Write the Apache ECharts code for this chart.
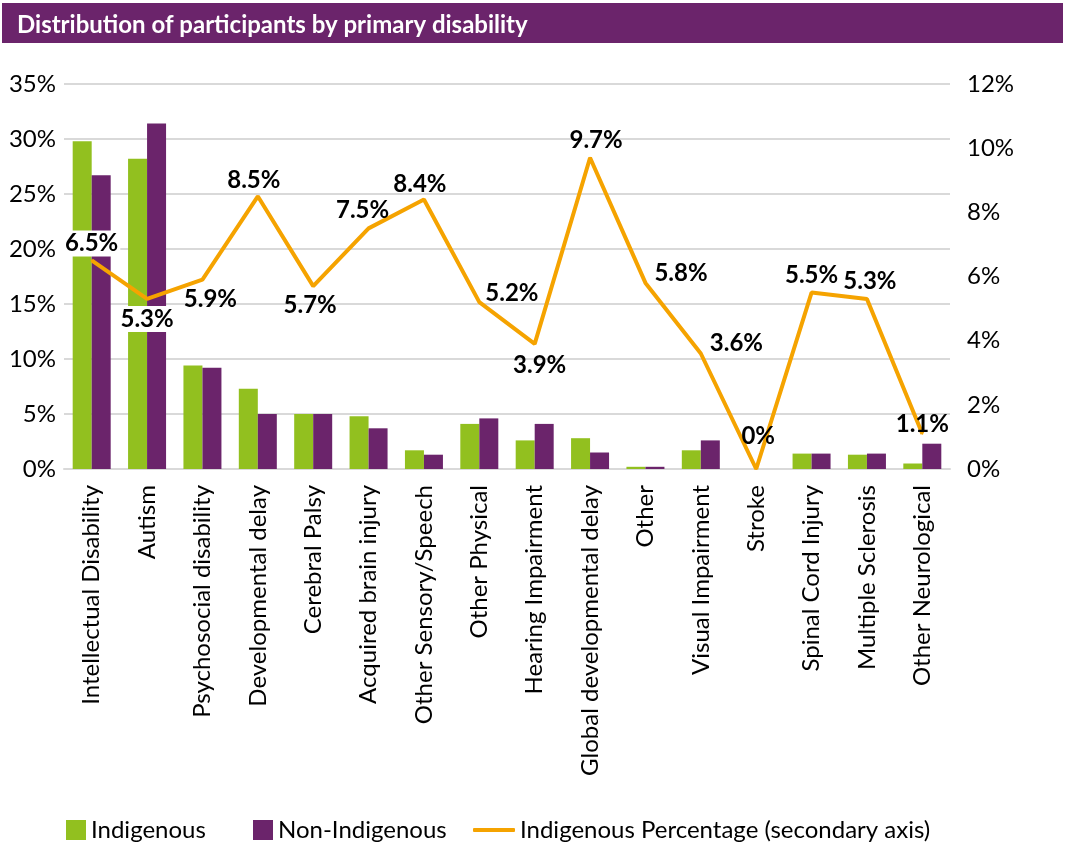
<!DOCTYPE html>
<html>
<head>
<meta charset="utf-8">
<script src="https://cdn.jsdelivr.net/npm/echarts@6/dist/echarts.min.js"></script>
<style>
html,body{margin:0;padding:0;background:#fff;}
#chart{width:1065px;height:846px;}
</style>
</head>
<body>
<div id="chart"></div>
<script>
const categories = ["Intellectual Disability","Autism","Psychosocial disability","Developmental delay","Cerebral Palsy","Acquired brain injury","Other Sensory/Speech","Other Physical","Hearing Impairment","Global developmental delay","Other","Visual Impairment","Stroke","Spinal Cord Injury","Multiple Sclerosis","Other Neurological"];
const indigenous = [29.8,28.2,9.4,7.3,5.0,4.8,1.7,4.1,2.6,2.8,0.2,1.7,0,1.4,1.3,0.5];
const nonIndigenous = [26.7,31.4,9.2,5.0,5.0,3.7,1.3,4.6,4.1,1.5,0.2,2.6,0,1.4,1.4,2.3];
const indigenousPct = [6.5,5.3,5.9,8.5,5.7,7.5,8.4,5.2,3.9,9.7,5.8,3.6,0,5.5,5.3,1.1];
const leftTicks = {min:0,max:35,interval:5};
const rightTicks = {min:0,max:12,interval:2};

// label placement styling (not data)
const labelStyles = [
  {position:'top', distance:3, backgroundColor:'#fff', padding:[1,2]},
  {position:'bottom', distance:6, backgroundColor:'#fff', padding:[1,2]},
  {position:'bottom', distance:7, offset:[8,0]},
  {position:'top', distance:3, offset:[-4,0]},
  {position:'bottom', distance:6, offset:[-3,0]},
  {position:'top', distance:5, offset:[-6,0]},
  {position:'top', distance:2, offset:[-4,0]},
  {position:'right', distance:5, offset:[0,-9]},
  {position:'bottom', distance:8, offset:[5,0]},
  {position:'top', distance:5, offset:[6,0]},
  {position:'right', distance:8, offset:[0,-10]},
  {position:'right', distance:8, offset:[0,-10]},
  {position:'top', distance:20, offset:[2,0]},
  {position:'top', distance:4, offset:[0,0]},
  {position:'top', distance:5, offset:[3,0]},
  {position:'top', distance:-4, offset:[0,0]}
];

const GREEN = '#92C01F', PURPLE = '#6B246B', ORANGE = '#F5A300';
const FONT = 'Lato';
const FS = 24;

const lineData = indigenousPct.map((v,i)=>({value:v, label:labelStyles[i]}));
const legendText = {fontFamily:FONT, fontSize:FS, color:'#000'};

const chart = echarts.init(document.getElementById('chart'), null, {renderer:'canvas'});
chart.setOption({
  animation:false,
  textStyle:{fontFamily:FONT},
  graphic:[{type:'rect', left:2, top:3, shape:{width:1061, height:40}, style:{fill:PURPLE}, z:0}],
  title:{text:'Distribution of participants by primary disability', left:12, top:8,
    textStyle:{color:'#fff', fontFamily:FONT, fontWeight:'bold', fontSize:24}},
  grid:{left:64, right:115, top:84, bottom:377, containLabel:false},
  legend:[
    {data:[{name:'Indigenous', icon:'rect'}], left:66, top:818, itemWidth:20, itemHeight:20, itemGap:6,
      padding:0, textStyle:legendText},
    {data:[{name:'Non-Indigenous', icon:'rect'}], left:253, top:818, itemWidth:20, itemHeight:20,
      padding:0, textStyle:legendText},
    {data:[{name:'Indigenous Percentage (secondary axis)', icon:'roundRect'}], left:473, top:818, itemWidth:42, itemHeight:4,
      padding:0, textStyle:legendText}
  ],
  xAxis:{type:'category', data:categories,
    axisTick:{show:false}, axisLine:{lineStyle:{color:'#d9d9d9', width:2}},
    axisLabel:{rotate:90, fontSize:FS, color:'#000', margin:16, interval:0, fontFamily:FONT}},
  yAxis:[
    {type:'value', min:leftTicks.min, max:leftTicks.max, interval:leftTicks.interval,
      axisLabel:{formatter:'{value}%', fontSize:FS, color:'#000', margin:8, fontFamily:FONT},
      axisLine:{show:false}, axisTick:{show:false},
      splitLine:{lineStyle:{color:'#d9d9d9', width:2}}},
    {type:'value', min:rightTicks.min, max:rightTicks.max, interval:rightTicks.interval,
      axisLabel:{formatter:'{value}%', fontSize:FS, color:'#000', margin:17, fontFamily:FONT},
      axisLine:{show:false}, axisTick:{show:false}, splitLine:{show:false}}
  ],
  series:[
    {name:'Indigenous', type:'bar', data:indigenous, barWidth:19, barGap:'0%', itemStyle:{color:GREEN}, z:2},
    {name:'Non-Indigenous', type:'bar', data:nonIndigenous, barWidth:19, barGap:'0%', itemStyle:{color:PURPLE}, z:2},
    {name:'Indigenous Percentage (secondary axis)', type:'line', yAxisIndex:1, data:lineData,
      symbol:'circle', symbolSize:2, showSymbol:true, lineStyle:{color:ORANGE, width:4}, itemStyle:{color:ORANGE}, z:5,
      label:{show:true, fontFamily:FONT, fontWeight:'bold', fontSize:24, color:'#000',
        formatter:p=> (p.value===0 ? '0' : p.value.toFixed(1)) + '%'}}
  ]
});
</script>
</body>
</html>
